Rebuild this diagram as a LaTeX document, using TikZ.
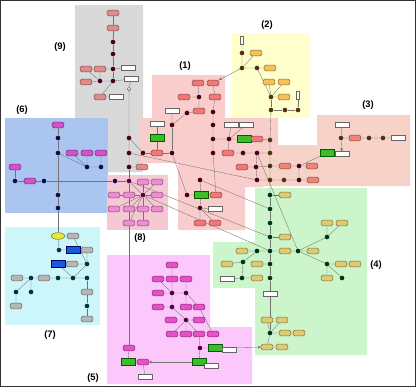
\documentclass[tikz,border=0pt]{standalone}
\usepackage{fontspec}
\setmainfont{Liberation Sans}
\usetikzlibrary{arrows.meta,positioning,shapes.geometric}

\definecolor{rg9}{RGB}{217,217,217}
\definecolor{rg6}{RGB}{170,197,240}
\definecolor{rg7}{RGB}{204,246,250}
\definecolor{rg1}{RGB}{250,205,205}
\definecolor{rg2}{RGB}{255,255,204}
\definecolor{rg3}{RGB}{246,210,200}
\definecolor{rg4}{RGB}{204,245,204}
\definecolor{rg5}{RGB}{252,200,252}
\definecolor{rg8}{RGB}{246,200,212}
\definecolor{c9}{RGB}{224,140,140}
\definecolor{c1}{RGB}{242,120,120}
\definecolor{c2}{RGB}{247,192,90}
\definecolor{c3}{RGB}{238,132,120}
\definecolor{c4}{RGB}{222,202,112}
\definecolor{c5}{RGB}{232,80,200}
\definecolor{c6}{RGB}{212,80,204}
\definecolor{c7}{RGB}{182,182,182}
\definecolor{c8}{RGB}{236,140,210}
\definecolor{k1}{RGB}{72,0,22}
\definecolor{k2}{RGB}{80,50,12}
\definecolor{k4}{RGB}{0,52,12}
\definecolor{k5}{RGB}{82,0,72}
\definecolor{k6}{RGB}{12,12,72}
\definecolor{k7}{RGB}{0,50,62}
\definecolor{cgrn}{RGB}{60,190,40}
\definecolor{cblu}{RGB}{20,92,222}
\definecolor{cyel}{RGB}{232,232,60}

\pgfdeclarelayer{regions}
\pgfdeclarelayer{links}
\pgfsetlayers{regions,links,main}

\begin{document}
\begin{tikzpicture}[
    x=0.03cm, y=-0.03cm,
    box/.style={draw=#1!55!black, fill=#1, rounded corners=1.2pt, minimum width=0.35cm, minimum height=0.17cm, inner sep=0pt},
    dot/.style={circle, fill=#1, inner sep=0pt, minimum size=0.14cm},
    gene/.style={draw=black!60, fill=white, minimum width=0.42cm, minimum height=0.15cm, inner sep=0pt},
    pin/.style={draw=black!60, fill=white, minimum width=0.1cm, minimum height=0.24cm, inner sep=0pt},
    grn/.style={draw=green!35!black, fill=cgrn, minimum width=0.42cm, minimum height=0.2cm, inner sep=0pt},
    blu/.style={draw=blue!40!black, fill=cblu, minimum width=0.42cm, minimum height=0.22cm, inner sep=0pt},
    ell/.style={ellipse, draw=olive!70!black, fill=cyel, minimum width=0.4cm, minimum height=0.2cm, inner sep=0pt},
    src/.style={circle, draw=black!70, fill=white, inner sep=0pt, minimum size=0.1cm},
    link/.style={draw=black!55, line width=0.3pt},
    act/.style={link, -{Stealth[length=2.5pt,width=2.5pt]}},
    tag/.style={font=\fontsize{8}{9}\selectfont\bfseries}
    ]
    \useasboundingbox (0,0) rectangle (416,387);

    % pathway regions
    \begin{pgfonlayer}{regions}
    \fill[rg9] (75,5) -- (143,5) -- (143,172) -- (108,172) -- (108,118) -- (75,118) -- cycle;
    \fill[rg6] (5,118) rectangle (108,213);
    \fill[rg7] (5,227) rectangle (100,325);
    \fill[rg8] (107,175) rectangle (168,230);
    \fill[rg1] (152,75) -- (225,75) -- (225,118) -- (278,118) -- (278,145) -- (263,145) -- (263,187)
        -- (245,187) -- (245,230) -- (178,230) -- (178,163) -- (140,163) -- (140,118) -- (152,118) -- cycle;
    \fill[rg2] (232,33) rectangle (310,118);
    \fill[rg3] (317,115) -- (410,115) -- (410,186) -- (263,186) -- (263,145) -- (317,145) -- cycle;
    \fill[rg4] (255,188) -- (367,188) -- (367,355) -- (255,355) -- (255,288) -- (213,288) -- (213,242) -- (255,242) -- cycle;
    \fill[rg5] (107,255) -- (210,255) -- (210,327) -- (252,327) -- (252,384) -- (107,384) -- cycle;
    \end{pgfonlayer}
    \draw[line width=1pt, black!80] (0.5,0.5) rectangle (415.5,386.5);

    \node[tag] (l1) at (185,66) {(1)};
    \node[tag] (l2) at (267,25) {(2)};
    \node[tag] (l3) at (368,105) {(3)};
    \node[tag] (l4) at (376,265) {(4)};
    \node[tag] (l5) at (93,378) {(5)};
    \node[tag] (l6) at (22,110) {(6)};
    \node[tag] (l7) at (50,335) {(7)};
    \node[tag] (l8) at (140,238) {(8)};
    \node[tag] (l9) at (60,47) {(9)};

    % (9)
    \node[box=c9] (g1) at (113,13) {};
    \node[box=c9] (g2) at (113,28) {};
    \node[dot=k1] (g3) at (113,42) {};
    \node[dot=k1] (g4) at (113,54) {};
    \node[dot=k1] (g5) at (113,69) {};
    \node[dot=k1] (g6) at (113,81) {};
    \node[dot=k1] (g7) at (100,81) {};
    \node[box=c9] (g8) at (86,69) {};
    \node[box=c9] (g9) at (100,69) {};
    \node[box=c9] (g10) at (86,82) {};
    \node[box=c9] (g11) at (100,97) {};
    \node[gene] (g12) at (128,68) {};
    \node[gene] (g13) at (131,79) {};
    \node[gene] (g14) at (116,97) {};
    \node[src] (g15) at (129,89) {};
    \node[dot=k1] (g16) at (129,138) {};
    \node[dot=k1] (g17) at (129,153) {};
    \node[dot=k1] (g18) at (129,167) {};
    \node[box=c9] (g19) at (142,167) {};

    % (1)
    \node[box=c1] (a1) at (198,83) {};
    \node[box=c1] (a2) at (213,83) {};
    \node[box=c1] (a3) at (184,97) {};
    \node[dot=k1] (a4) at (199,97) {};
    \node[box=c1] (a5) at (215,97) {};
    \node[gene] (a6) at (172,111) {};
    \node[dot=k1] (a7) at (187,113) {};
    \node[box=c1] (a8) at (199,111) {};
    \node[dot=k1] (a9) at (213,112) {};
    \node[dot=k1] (a10) at (172,125) {};
    \node[gene] (a11) at (157,124) {};
    \node[gene] (a12) at (231,125) {};
    \node[gene] (a13) at (246,125) {};
    \node[dot=k1] (a14) at (213,125) {};
    \node[grn] (a15) at (157,138) {};
    \node[dot=k1] (a16) at (213,139) {};
    \node[dot=k1] (a17) at (229,139) {};
    \node[grn] (a18) at (244,139) {};
    \node[box=c1] (a19) at (257,139) {};
    \node[dot=k1] (a20) at (143,153) {};
    \node[box=c1] (a21) at (157,153) {};
    \node[dot=k1] (a22) at (172,153) {};
    \node[dot=k1] (a23) at (213,153) {};
    \node[box=c1] (a24) at (228,153) {};
    \node[dot=k1] (a25) at (243,153) {};
    \node[dot=k1] (a26) at (257,153) {};
    \node[box=c1] (a27) at (242,167) {};
    \node[dot=k1] (a28) at (256,167) {};
    \node[dot=k1] (a29) at (257,180) {};
    \node[dot=k1] (a30) at (200,180) {};
    \node[dot=k1] (a31) at (187,195) {};
    \node[grn] (a32) at (201,195) {};
    \node[box=c1] (a33) at (216,195) {};
    \node[dot=k1] (a34) at (200,208) {};
    \node[gene] (a35) at (215,209) {};
    \node[box=c1] (a36) at (200,223) {};
    \node[box=c1] (a37) at (215,223) {};

    % (2)
    \node[pin] (y1) at (242,40) {};
    \node[dot=k2] (y2) at (242,53) {};
    \node[box=c2] (y3) at (256,53) {};
    \node[dot=k2] (y4) at (242,68) {};
    \node[dot=k2] (y5) at (257,68) {};
    \node[box=c2] (y6) at (270,68) {};
    \node[box=c2] (y7) at (269,82) {};
    \node[box=c2] (y8) at (284,82) {};
    \node[dot=k2] (y9) at (271,97) {};
    \node[box=c2] (y10) at (284,97) {};
    \node[pin] (y11) at (298,95) {};
    \node[dot=k2] (y12) at (271,110) {};
    \node[dot=k2] (y13) at (285,110) {};
    \node[dot=k2] (y15) at (298,110) {};

    % (3)
    \node[gene] (t1) at (342,125) {};
    \node[dot=k2] (t2) at (341,138) {};
    \node[box=c3] (t3) at (355,138) {};
    \node[dot=k2] (t4) at (369,138) {};
    \node[dot=k2] (t5) at (383,138) {};
    \node[gene] (t6) at (398,138) {};
    \node[grn] (t7) at (327,153) {};
    \node[gene] (t8) at (342,154) {};
    \node[dot=k1] (t9) at (299,166) {};
    \node[box=c3] (t10) at (312,166) {};
    \node[box=c3] (t11) at (285,166) {};
    \node[dot=k1] (t12) at (299,180) {};
    \node[box=c3] (t13) at (313,180) {};
    \node[dot=k2] (s1) at (270,140) {};
    \node[dot=k2] (s2) at (270,153) {};
    \node[dot=k2] (s3) at (270,166) {};
    \node[dot=k2] (s4) at (270,180) {};
    \node[dot=k2] (s5) at (284,180) {};

    % (4)
    \node[dot=k4] (f1) at (270,195) {};
    \node[box=c4] (f2) at (285,195) {};
    \node[dot=k4] (f3) at (270,209) {};
    \node[dot=k4] (f4) at (270,223) {};
    \node[dot=k4] (f5) at (270,237) {};
    \node[box=c4] (f6) at (285,237) {};
    \node[box=c4] (f7) at (242,251) {};
    \node[dot=k4] (f8) at (257,251) {};
    \node[dot=k4] (f9) at (270,251) {};
    \node[box=c4] (f10) at (285,251) {};
    \node[dot=k4] (f11) at (298,251) {};
    \node[box=c4] (f12) at (313,251) {};
    \node[box=c4] (f13) at (327,223) {};
    \node[box=c4] (f14) at (342,223) {};
    \node[dot=k4] (f15) at (327,237) {};
    \node[box=c4] (f16) at (227,264) {};
    \node[box=c4] (f17) at (257,264) {};
    \node[dot=k4] (f18) at (270,264) {};
    \node[dot=k4] (f19) at (327,264) {};
    \node[box=c4] (f20) at (341,264) {};
    \node[box=c4] (f21) at (355,264) {};
    \node[gene] (f22) at (227,279) {};
    \node[dot=k4] (f23) at (242,278) {};
    \node[box=c4] (f24) at (257,278) {};
    \node[dot=k4] (f25) at (270,278) {};
    \node[box=c4] (f26) at (327,278) {};
    \node[dot=k4] (f27) at (342,278) {};
    \node[dot=k4] (f28) at (243,262) {};
    \node[gene] (f29) at (270,294) {};
    \node[box=c4] (f30) at (267,320) {};
    \node[box=c4] (f31) at (282,320) {};
    \node[dot=k4] (f32) at (270,333) {};
    \node[box=c4] (f33) at (285,333) {};
    \node[box=c4] (f34) at (299,333) {};
    \node[box=c4] (f35) at (267,347) {};
    \node[box=c4] (f36) at (282,347) {};

    % (5)
    \node[box=c5] (m1) at (172,265) {};
    \node[box=c5] (m2) at (158,279) {};
    \node[box=c5] (m3) at (172,279) {};
    \node[box=c5] (m4) at (186,279) {};
    \node[box=c5] (m5) at (158,293) {};
    \node[dot=k5] (m6) at (172,293) {};
    \node[dot=k5] (m7) at (186,293) {};
    \node[box=c5] (m8) at (158,307) {};
    \node[dot=k5] (m9) at (172,307) {};
    \node[box=c5] (m10) at (186,307) {};
    \node[box=c5] (m11) at (199,307) {};
    \node[box=c5] (m12) at (171,320) {};
    \node[dot=k5] (m13) at (186,320) {};
    \node[box=c5] (m14) at (199,320) {};
    \node[box=c5] (m15) at (172,334) {};
    \node[box=c5] (m16) at (186,334) {};
    \node[box=c5] (m17) at (199,334) {};
    \node[box=c5] (m18) at (213,334) {};
    \node[dot=k5] (m19) at (200,348) {};
    \node[grn] (m20) at (215,348) {};
    \node[gene] (m21) at (229,350) {};
    \node[box=c5] (m22) at (129,348) {};
    \node[grn] (m23) at (128,362) {};
    \node[box=c5] (m24) at (143,362) {};
    \node[grn] (m25) at (199,362) {};
    \node[gene] (m26) at (211,366) {};
    \node[gene] (m27) at (145,377) {};

    % (6)
    \node[box=c6] (b1) at (58,125) {};
    \node[dot=k6] (b2) at (58,138) {};
    \node[dot=k6] (b3) at (58,153) {};
    \node[box=c6] (b4) at (72,153) {};
    \node[box=c6] (b5) at (87,153) {};
    \node[box=c6] (b6) at (101,153) {};
    \node[dot=k6] (b7) at (87,167) {};
    \node[dot=k6] (b8) at (101,167) {};
    \node[box=c6] (b9) at (15,167) {};
    \node[dot=k6] (b10) at (15,181) {};
    \node[box=c6] (b11) at (30,181) {};
    \node[dot=k6] (b12) at (44,181) {};
    \node[dot=k6] (b13) at (115,181) {};
    \node[dot=k6] (b14) at (58,195) {};
    \node[dot=k6] (b15) at (58,208) {};

    % (7)
    \node[ell] (e1) at (58,236) {};
    \node[box=c7] (e2) at (73,236) {};
    \node[dot=k7] (e3) at (59,250) {};
    \node[blu] (e4) at (73,250) {};
    \node[box=c7] (e5) at (87,250) {};
    \node[blu] (e6) at (58,264) {};
    \node[box=c7] (e7) at (72,264) {};
    \node[dot=k7] (e8) at (87,264) {};
    \node[box=c7] (e9) at (17,278) {};
    \node[dot=k7] (e10) at (31,278) {};
    \node[box=c7] (e11) at (44,278) {};
    \node[dot=k7] (e12) at (58,278) {};
    \node[dot=k7] (e13) at (73,278) {};
    \node[dot=k7] (e14) at (87,278) {};
    \node[dot=k7] (e15) at (16,292) {};
    \node[dot=k7] (e16) at (31,292) {};
    \node[box=c7] (e17) at (16,306) {};
    \node[box=c7] (e18) at (87,292) {};
    \node[dot=k7] (e19) at (87,306) {};
    \node[box=c7] (e20) at (87,319) {};

    % (8)
    \node[dot=k5] (h1) at (129,181) {};
    \node[dot=k5] (h2) at (143,195) {};
    \node[box=c8] (h3) at (114,195) {};
    \node[box=c8] (h4) at (129,195) {};
    \node[box=c8] (h5) at (157,195) {};
    \node[box=c8] (h6) at (114,209) {};
    \node[box=c8] (h7) at (129,209) {};
    \node[box=c8] (h8) at (143,209) {};
    \node[box=c8] (h9) at (157,209) {};
    \node[box=c8] (h10) at (129,223) {};
    \node[box=c8] (h11) at (143,223) {};
    \node[box=c8] (h12) at (143,182) {};
    \node[box=c8] (h13) at (157,182) {};

    \begin{pgfonlayer}{links}
    % inside the regions
    \draw[link] (g1) -- (g2) -- (g3) -- (g4) -- (g5) -- (g6);
    \draw[link] (g8) -- (g7) (g9) -- (g7) (g10) -- (g7) (g7) -- (g6) (g5) -- (g8);
    \draw[link] (g5) -- (g12) (g6) -- (g13) (g6) -- (g11) (g11) -- (g14);
    \draw[link] (g13) -- (g15) -- (g16) -- (g17) -- (g18) (g18) -- (g19);
    \draw[link] (a1) -- (a4) (a3) -- (a4) (a4) -- (a8) -- (a7) -- (a10) (a6) -- (a10);
    \draw[link] (a2) -- (a5) -- (a9) -- (a14) -- (a16) -- (a23) -- (a33);
    \draw[link] (a11) -- (a15) -- (a21) (a20) -- (a21) -- (a22) -- (a10);
    \draw[link] (a12) -- (a17) (a13) -- (a17) (a16) -- (a17) -- (a18) -- (a19) (a17) -- (a24) -- (a25) -- (a26);
    \draw[link] (a26) -- (a28) (a27) -- (a28) -- (a29);
    \draw[link] (a30) -- (a32) (a31) -- (a32) -- (a33) (a32) -- (a34) -- (a35) (a34) -- (a36) (a34) -- (a37) (a22) -- (a31);
    \draw[link] (y1) -- (y2) -- (y4) (y3) -- (y4) -- (y5) (y5) -- (y6) (y5) -- (y9) (y7) -- (y9) (y8) -- (y9) (y10) -- (y9);
    \draw[link] (y9) -- (y12) -- (y13) -- (y15) (y11) -- (y15);
    \draw[link] (t1) -- (t2) -- (t3) -- (t4) -- (t5) -- (t6) (t8) -- (t7) -- (t9) -- (t10) (t9) -- (t11) (t9) -- (t12) -- (t13);
    \draw[act] (t2) -- (t8);
    \draw[link] (y12) -- (s1) -- (s2) -- (s3) -- (s4) -- (f1) (s4) -- (s5) -- (t12) (t11) -- (s3);
    \draw[link] (a19) -- (s1) (a26) -- (s2) (a28) -- (s3) (a29) -- (s4);
    \draw[link] (f1) -- (f2) (f1) -- (f3) -- (f4) -- (f5) -- (f9) -- (f18) -- (f25) -- (f29) -- (f32) (f5) -- (f6);
    \draw[link] (f7) -- (f8) -- (f9) -- (f10) -- (f11) -- (f12) (f11) -- (f15) -- (f13) (f15) -- (f14);
    \draw[link] (f11) -- (f19) -- (f20) -- (f21) (f19) -- (f26) (f19) -- (f27) (f17) -- (f18);
    \draw[link] (f16) -- (f28) -- (f23) (f22) -- (f23) -- (f24) (f8) -- (f28);
    \draw[link] (f30) -- (f32) (f31) -- (f32) -- (f33) -- (f34) (f32) -- (f35) -- (f36);
    \draw[link] (m1) -- (m3) -- (m6) (m2) -- (m6) (m5) -- (m6) -- (m7) (m4) -- (m7) (m6) -- (m9) (m8) -- (m9);
    \draw[link] (m7) -- (m10) (m7) -- (m11) (m9) -- (m13) (m12) -- (m13) (m14) -- (m13);
    \draw[link] (m13) -- (m15) (m13) -- (m16) (m13) -- (m17) (m11) -- (m18) (m17) -- (m19);
    \draw[link] (m19) -- (m20) -- (m21) (m19) -- (m25) -- (m26) (m22) -- (m23) -- (m24) -- (m27);
    \draw[act] (m25) -- (m24);
    \draw[link] (b1) -- (b2) -- (b3) -- (b14) -- (b15) -- (e1);
    \draw[link] (b3) -- (b7) (b4) -- (b7) (b5) -- (b7) (b6) -- (b8) (b7) -- (b8);
    \draw[link] (b9) -- (b10) -- (b11) -- (b12) -- (b13);
    \draw[link] (e1) -- (e2) (e1) -- (e3) -- (e4) -- (e5) -- (e8) (e2) -- (e8) (e6) -- (e7) -- (e8) -- (e13) (e6) -- (e13);
    \draw[link] (e9) -- (e10) -- (e11) -- (e12) -- (e13) -- (e14) (e10) -- (e15) -- (e17) (e10) -- (e16);
    \draw[link] (e14) -- (e18) -- (e19) -- (e20);
    \foreach \k in {h3,h4,h5,h6,h7,h8,h9,h10,h11,h12,h13,h1}
      \draw[link] (h2) -- (\k);
    % across the regions
    \draw[link] (g18) -- (h1) -- (m22);
    \draw[link] (b13) -- (h1);
    \draw[act] (y4) -- (a2);
    \draw[act] (m20) -- (f35);
    \draw[link] (g17) -- (a29) (h1) -- (f5) (h2) -- (f9) (a30) -- (f3) (a26) -- (f11) (g16) -- (a20);
    \end{pgfonlayer}
\end{tikzpicture}
\end{document}
